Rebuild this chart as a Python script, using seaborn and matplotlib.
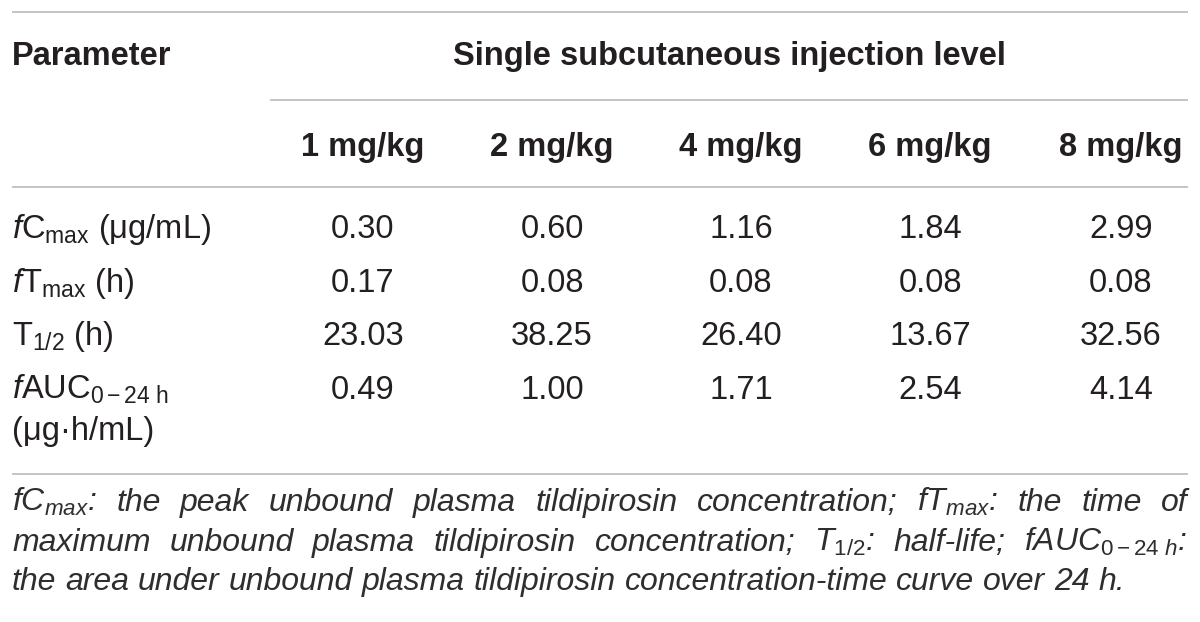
import matplotlib
matplotlib.use("Agg")
import matplotlib.pyplot as plt
import seaborn as sns

# Table content
doses = ["1 mg/kg", "2 mg/kg", "4 mg/kg", "6 mg/kg", "8 mg/kg"]
param_labels = [r"$f$C$_{\mathrm{max}}$ (μg/mL)",
                r"$f$T$_{\mathrm{max}}$ (h)",
                r"T$_{1/2}$ (h)",
                r"$f$AUC$_{0-24\ \mathrm{h}}$"]
param_extra = "(μg·h/mL)"
cmax = [0.30, 0.60, 1.16, 1.84, 2.99]
tmax = [0.17, 0.08, 0.08, 0.08, 0.08]
t_half = [23.03, 38.25, 26.40, 13.67, 32.56]
auc = [0.49, 1.00, 1.71, 2.54, 4.14]
rows = [cmax, tmax, t_half, auc]

header_left = "Parameter"
header_span = "Single subcutaneous injection level"
footnote_lines = [
    [r"$fC_{max}$:", "the", "peak", "unbound", "plasma", "tildipirosin",
     "concentration;", r"$fT_{max}$:", "the", "time", "of"],
    ["maximum", "unbound", "plasma", "tildipirosin", "concentration;",
     r"$T_{\mathit{1/2}}$:", "half-life;", r"$fAUC_{\mathit{0-24\ h}}$:"],
    ["the", "area", "under", "unbound", "plasma", "tildipirosin",
     "concentration-time", "curve", "over", "24", "h."],
]

sns.set_theme(style="white")
plt.rcParams["font.family"] = ["Liberation Sans", "DejaVu Sans"]
plt.rcParams["mathtext.fontset"] = "custom"
plt.rcParams["mathtext.rm"] = "Liberation Sans"
plt.rcParams["mathtext.it"] = "Liberation Sans:italic"
plt.rcParams["mathtext.bf"] = "Liberation Sans:bold"

TEXT = "#231f20"
RULE = "#c4c4c4"
SIZE = 23.5

fig = plt.figure(figsize=(12, 6.22), dpi=100)
ax = fig.add_axes([0, 0, 1, 1])
ax.set_xlim(0, 1200)
ax.set_ylim(622, 0)
ax.axis("off")

left, right = 12, 1188
col_x = [363, 552, 741, 930, 1121]

# rules
ax.hlines([12, 187, 474], left, right, color=RULE, lw=1.4)
ax.hlines(100, 270, right, color=RULE, lw=1.4)

# headers
ax.text(left, 65, header_left, fontsize=SIZE, fontweight="bold", color=TEXT,
        ha="left", va="baseline")
ax.text((270 + right) / 2, 65, header_span, fontsize=SIZE, fontweight="bold",
        color=TEXT, ha="center", va="baseline")
for x, d in zip(col_x, doses):
    ax.text(x, 156, d, fontsize=SIZE, fontweight="bold", color=TEXT,
            ha="center", va="baseline")

# body
row_y = [238, 292, 345, 399]
for y, label, vals in zip(row_y, param_labels, rows):
    ax.text(left, y, label, fontsize=SIZE, color=TEXT, ha="left", va="baseline")
    for x, v in zip(col_x, vals):
        ax.text(x, y, f"{v:.2f}", fontsize=SIZE, color=TEXT, ha="center",
                va="baseline")
ax.text(left, 440, param_extra, fontsize=SIZE, color=TEXT, ha="left",
        va="baseline")

# justified footnote
fig.canvas.draw()
renderer = fig.canvas.get_renderer()


def width_of(t):
    return t.get_window_extent(renderer).width


foot_kw = dict(fontsize=23, style="italic", color="#2e2e2e", va="baseline",
               ha="left")
probe_a = ax.text(0, -50, "x x", **foot_kw)
probe_b = ax.text(0, -50, "xx", **foot_kw)
space_w = width_of(probe_a) - width_of(probe_b)
probe_a.remove()
probe_b.remove()

foot_y = [511, 551, 590]
for i, (words, y) in enumerate(zip(footnote_lines, foot_y)):
    texts = [ax.text(0, y, w, **foot_kw) for w in words]
    widths = [width_of(t) for t in texts]
    last = i == len(footnote_lines) - 1
    gap = space_w if last else (right - left - sum(widths)) / (len(words) - 1)
    x = left
    for t, w in zip(texts, widths):
        t.set_x(x)
        x += w + gap

fig.savefig("out.png", dpi=100, facecolor="white")
